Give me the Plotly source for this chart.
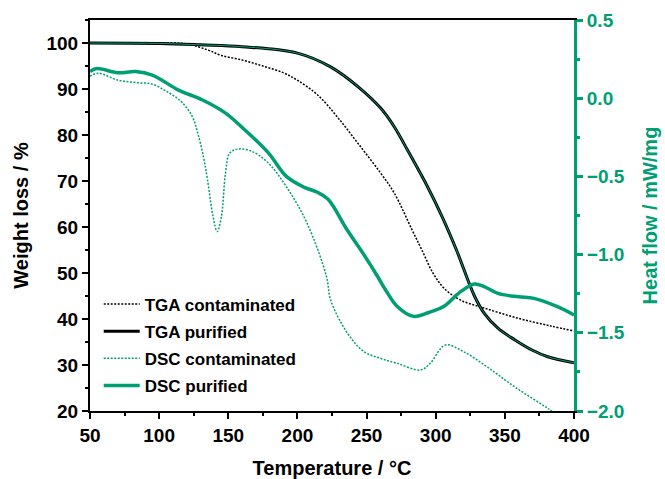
import plotly.graph_objects as go

GREEN = "#009E73"

# TGA contaminated (left axis, %)
tga_c_T = [50, 100, 120, 135, 145, 160, 175, 190, 200, 215, 230, 245, 260, 270, 283, 290, 298, 306, 318, 335, 359, 383, 400]
tga_c_W = [100, 100, 99.8, 98.5, 97.3, 96.3, 95, 93.5, 91.9, 88.6, 83.5, 77.7, 71.8, 67.4, 59.3, 55, 50, 46.7, 44.1, 42.4, 40.2, 38.5, 37.4]

# TGA purified (left axis, %)
tga_p_T = [50, 100, 130, 160, 200, 224, 245, 260, 270, 280, 294, 305, 315, 328, 335, 345, 357, 370, 381, 400]
tga_p_W = [100, 99.9, 99.6, 99.2, 97.8, 94.8, 90.2, 85.9, 81.8, 76.5, 68.8, 62, 55, 45, 41.3, 38, 35.5, 33.2, 31.8, 30.5]

# DSC contaminated (right axis, mW/mg)
dsc_c_T = [50, 56, 70, 83, 95, 106, 116, 124, 128, 132, 135, 139, 142, 145, 148, 151, 157, 166, 178, 192, 207, 221, 224, 236, 248, 260, 272, 289, 296, 307, 320, 337, 357, 381, 400]
dsc_c_H = [0.14, 0.16, 0.116, 0.1, 0.09, 0.04, -0.022, -0.118, -0.225, -0.374, -0.523, -0.758, -0.853, -0.758, -0.48, -0.352, -0.325, -0.336, -0.406, -0.566, -0.8, -1.14, -1.29, -1.5, -1.62, -1.663, -1.695, -1.738, -1.695, -1.578, -1.62, -1.717, -1.845, -1.983, -2.1]

# DSC purified (right axis, mW/mg)
dsc_p_T = [50, 55, 70, 83, 95, 114, 131, 148, 162, 179, 192, 205, 214, 222, 236, 248, 258, 264, 272, 284, 295, 306, 318, 328, 335, 345, 360, 371, 388, 400]
dsc_p_H = [0.17, 0.19, 0.163, 0.17, 0.148, 0.052, -0.01, -0.095, -0.203, -0.35, -0.5, -0.57, -0.6, -0.645, -0.843, -1.0, -1.14, -1.23, -1.33, -1.395, -1.37, -1.33, -1.237, -1.188, -1.205, -1.248, -1.27, -1.28, -1.333, -1.386]

fig = go.Figure()
fig.add_trace(go.Scatter(x=tga_c_T, y=tga_c_W, mode="lines", name="TGA contaminated",
                         line=dict(color="black", width=1.5, dash="2px,1.5px", shape="spline"),
                         legendgroup="a"))
fig.add_trace(go.Scatter(x=tga_p_T, y=tga_p_W, mode="lines", name="TGA purified",
                         line=dict(color="black", width=3, shape="spline"), legendgroup="b"))
fig.add_trace(go.Scatter(x=tga_p_T, y=tga_p_W, mode="lines", showlegend=False,
                         line=dict(color=GREEN, width=1, shape="spline"), hoverinfo="skip"))
fig.add_trace(go.Scatter(x=dsc_c_T, y=dsc_c_H, mode="lines", name="DSC contaminated", yaxis="y2",
                         line=dict(color=GREEN, width=1.5, dash="2px,1.5px", shape="spline"),
                         legendgroup="c"))
fig.add_trace(go.Scatter(x=dsc_p_T, y=dsc_p_H, mode="lines", name="DSC purified", yaxis="y2",
                         line=dict(color=GREEN, width=3.5, shape="spline"), legendgroup="d"))

font_fam = "Liberation Sans, Arial, sans-serif"

fig.update_layout(
    width=665, height=479,
    margin=dict(l=90, r=91, t=20, b=68),
    paper_bgcolor="white", plot_bgcolor="white",
    font=dict(family=font_fam, size=16, color="black"),
    showlegend=True,
    legend=dict(x=0.018, y=0.019, xanchor="left", yanchor="bottom",
                font=dict(family=font_fam, size=17, color="black", weight="bold"),
                bgcolor="rgba(0,0,0,0)", tracegroupgap=2, traceorder="grouped",
                itemwidth=36),
    xaxis=dict(range=[50, 400], dtick=50, tick0=50, showline=True, linecolor="black", linewidth=2,
               mirror=True, ticks="outside", ticklen=6, tickwidth=2, tickcolor="black",
               showgrid=False, zeroline=False, automargin=False,
               tickfont=dict(family=font_fam, size=19, weight="bold"),
               minor=dict(dtick=25, tick0=50, ticks="outside", ticklen=3, tickwidth=2, tickcolor="black"),
               title=dict(text="Temperature / °C", font=dict(family=font_fam, size=20, weight="bold"),
                          standoff=16)),
    yaxis=dict(range=[20, 105], tickvals=[20, 30, 40, 50, 60, 70, 80, 90, 100],
               showline=True, linecolor="black", linewidth=2, mirror=False,
               ticks="outside", ticklen=6, tickwidth=2, tickcolor="black",
               showgrid=False, zeroline=False, automargin=False,
               tickfont=dict(family=font_fam, size=19, weight="bold"),
               minor=dict(dtick=5, tick0=20, ticks="outside", ticklen=3, tickwidth=2, tickcolor="black"),
               title=dict(text="Weight loss / %", font=dict(family=font_fam, size=20, weight="bold"),
                          standoff=12)),
    yaxis2=dict(range=[-2.0, 0.5], dtick=0.5, tick0=0, overlaying="y", side="right",
                showline=True, linecolor=GREEN, linewidth=3,
                ticks="outside", ticklen=6, tickwidth=2.5, tickcolor=GREEN, tickformat=".1f",
                showgrid=False, zeroline=False, automargin=False,
                tickfont=dict(family=font_fam, size=19, color=GREEN, weight="bold"),
                minor=dict(dtick=0.25, tick0=0, ticks="outside", ticklen=3, tickwidth=2.5, tickcolor=GREEN),
                title=dict(text="Heat flow / mW/mg", font=dict(family=font_fam, size=20, color=GREEN, weight="bold"),
                           standoff=20)),
)

fig.write_html("out.html")
